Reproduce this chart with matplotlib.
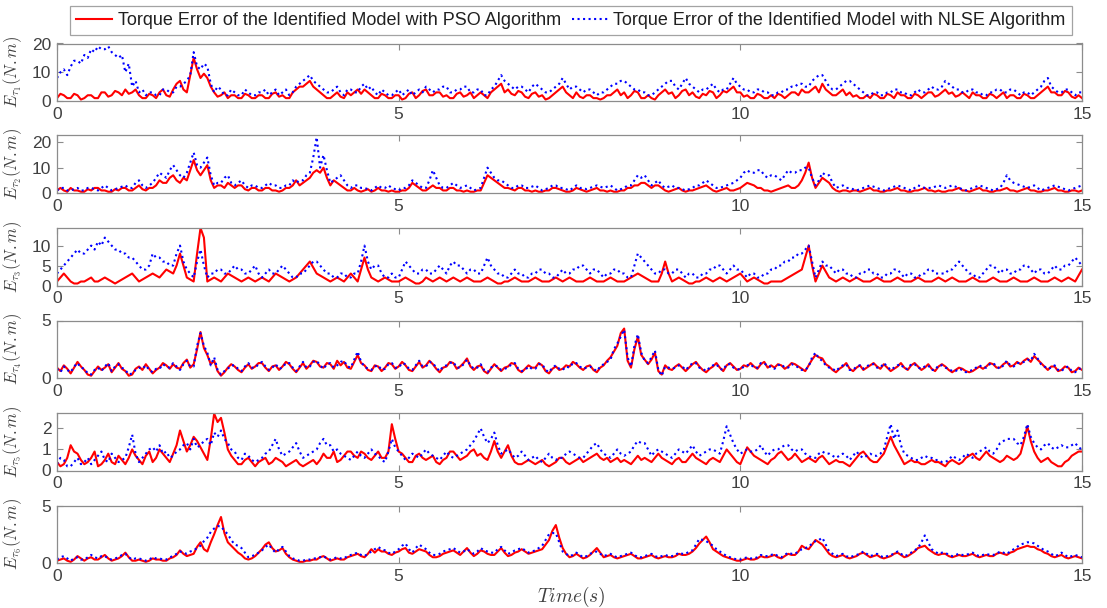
import numpy as np
import matplotlib
matplotlib.use("Agg")
import matplotlib.pyplot as plt

plt.rcParams['font.family'] = ['Liberation Sans', 'DejaVu Sans']
plt.rcParams['mathtext.fontset'] = 'cm'

# torque error of the PSO-identified model, joints 1..6 (N.m), one row per second
pso_1 = [1, 2.5, 2, 1, 1, 2.5, 2, 0.5, 1, 2, 2, 1, 1, 3, 3, 1.5, 2, 3.5, 3, 2,
         4, 2.5, 3, 4, 2, 1, 1, 2.5, 2, 1, 3, 4, 2, 1.5, 4, 6, 7, 4, 3, 9,
         15, 11, 8, 9.5, 8, 5, 3, 1.5, 2, 3, 1, 2, 2, 1, 1, 2.5, 2, 1, 1, 2,
         2, 1, 1, 2.5, 3, 1.5, 2, 1, 1, 3, 4, 5, 5, 6, 7, 5, 4, 3, 2, 1,
         1, 2, 3, 1.5, 1, 3, 2, 3, 4, 2.5, 4, 3, 2, 1, 1, 2.5, 2, 1, 1, 2,
         2, 0.5, 1, 2.5, 3, 1, 2, 3.5, 4, 2, 2, 3, 3, 1.5, 2, 1, 1, 2.5, 3, 1.5,
         2, 3, 1, 2, 3, 2, 1, 3, 4, 5, 6, 3, 4, 2.5, 2, 3.5, 3, 1.5, 1, 2.5,
         3, 1.5, 2, 0.5, 1, 2, 3, 4, 5, 3, 2, 1, 3, 1.5, 1, 2, 2, 1, 1, 0.5,
         1, 2, 2, 3, 4, 2, 3, 1, 2, 3.5, 3, 1, 1, 2, 1, 0.5, 2, 3, 4, 2.5,
         3, 1, 2, 3.5, 4, 2, 3, 1.5, 1, 2.5, 2, 3.5, 3, 1, 2, 3.5, 3, 4, 5, 3,
         3, 1.5, 2, 1, 1, 2.5, 2, 1, 1, 2, 1, 2.5, 2, 1, 2, 3, 3, 2, 4, 3,
         3, 4, 5, 3, 6, 4, 3, 2, 2, 3, 4, 2, 3, 1.5, 2, 1, 1, 2, 1, 2.5,
         2, 1, 1, 2.5, 2, 1, 3, 2, 2, 1, 1, 2.5, 2, 1, 2, 3, 3, 1.5, 2, 3,
         4, 2.5, 3, 1.5, 2, 3, 2, 1, 3, 2, 2, 1, 1, 2.5, 2, 1, 2, 3, 1, 2,
         2, 1, 1, 2.5, 2, 1, 1, 2, 3, 4, 5, 3, 3, 2, 2, 3.5, 3, 1.5, 1, 2,
         1]
pso_2 = [1, 2, 1, 0.5, 2, 1, 1, 0.5, 0.5, 1.5, 1, 2, 2, 1, 1, 0.5, 0.5, 1.5, 1, 2,
         2, 1, 1, 2, 3, 1.5, 1, 2, 2, 3, 5, 4, 4, 6, 7, 5, 4, 6, 5, 9,
         13, 9, 7, 9, 11, 5, 2, 3, 3, 2, 4, 3, 2, 3, 3, 1.5, 1, 2, 2, 1,
         1, 2, 2, 1, 1, 0.5, 1, 2, 2, 3, 5, 3, 4, 5, 6, 8, 9, 8, 10, 6,
         3, 5, 4, 3, 2, 1, 1, 2, 1, 0.5, 1, 1.5, 0.5, 1, 2, 1, 1, 0.5, 1, 0.5,
         0.5, 1, 1, 2, 4, 3, 2, 1, 1, 2, 3, 2, 2, 1, 1, 2, 2, 1, 1, 0.5,
         1, 0.5, 0.5, 1, 1, 4, 7, 6, 5, 4, 3, 2, 2, 1.5, 1, 2, 2, 1, 1, 0.5,
         1, 0.5, 0.5, 1, 1, 2, 2, 1.5, 1, 0.5, 0.5, 1, 2, 1.5, 1, 0.5, 1, 1.5, 2, 1,
         1, 0.5, 1, 0.5, 0.5, 1, 1, 2, 2, 3, 3, 4, 4, 3, 2, 3, 3, 2, 1, 0.5,
         1, 1.5, 2, 1, 0.5, 1, 1, 1.5, 2, 2.5, 3, 2, 1, 0.5, 1, 1.5, 2, 1, 1, 1.5,
         2, 3, 4, 3.5, 3, 2, 2, 1, 1, 0.5, 1, 1.5, 2, 2.5, 3, 2, 2, 3, 5, 8,
         12, 6, 2, 4, 6, 5, 4, 2, 1, 0.5, 1, 1, 0.5, 1, 1, 0.5, 1, 1.5, 2, 1,
         1, 0.5, 0.5, 1, 1, 1.5, 2, 1, 1, 0.5, 0.5, 1, 1, 1.5, 2, 1, 1, 0.5, 1, 0.5,
         0.5, 1, 1, 1.5, 2, 1, 1, 0.5, 1, 1.5, 2, 1, 1, 0.5, 0.5, 1, 1, 1.5, 2, 1,
         1, 0.5, 1, 1.5, 2, 1, 1, 0.5, 0.5, 1, 1, 1.5, 2, 1, 1, 0.5, 0.5, 1, 1, 0.5,
         1]
pso_3 = [1, 2, 3, 2, 1, 0.5, 0.5, 1, 1, 1.5, 2, 1, 1, 1.5, 2, 1.5, 1, 0.5, 1, 1.5,
         2, 2.5, 3, 2, 1, 1.5, 2, 2.5, 3, 2.5, 2, 3, 4, 3.5, 3, 5, 8, 5, 2, 1.5,
         1, 8, 14.4, 12, 1, 1.5, 2, 1.5, 1, 2, 3, 2.5, 2, 1.5, 1, 1.5, 2, 1.5, 1, 1.5,
         2, 1.5, 1, 2, 3, 2.5, 2, 1.5, 1, 1.5, 2, 3, 4, 5, 6, 4.5, 3, 2.5, 2, 1.5,
         1, 1.5, 2, 1.5, 1, 2, 3, 2, 1, 4, 7, 4, 2, 1.5, 1, 1.5, 2, 1.5, 1, 1,
         1, 1.5, 2, 1.5, 1, 0.5, 0.5, 1, 2, 1.5, 1, 1.5, 2, 1.5, 1, 1.5, 2, 1.5, 1, 1.5,
         2, 1.5, 1, 1, 1, 1.5, 2, 1.5, 1, 0.5, 0.5, 1, 1, 1.5, 2, 1.5, 1, 1, 1, 1.5,
         2, 1.5, 1, 1, 1, 1.5, 2, 1.5, 1, 1.5, 2, 1.5, 1, 1, 1, 1.5, 2, 1.5, 1, 1,
         1, 1.5, 2, 1.5, 1, 1, 1, 1.5, 2, 2.5, 3, 2.5, 2, 1.5, 1, 1, 1, 3, 6, 3,
         1, 1.5, 2, 1.5, 1, 0.5, 0.5, 1, 1, 1.5, 2, 1.5, 1, 1.5, 2, 1.5, 1, 1.5, 2, 2.5,
         3, 2, 1, 1.5, 2, 1.5, 1, 0.5, 0.5, 1, 1, 1, 1, 1.5, 2, 2.5, 3, 3.5, 4, 7,
         10, 5, 1, 3, 5, 3.5, 2, 1.5, 1, 1.5, 2, 1.5, 1, 1.5, 2, 1.5, 1, 1, 1, 1.5,
         2, 1.5, 1, 1, 1, 1.5, 2, 1.5, 1, 1, 1, 1.5, 2, 1.5, 1, 1, 1, 1.5, 2, 1.5,
         1, 1.5, 2, 1.5, 1, 1, 1, 1.5, 2, 1.5, 1, 1, 1, 1.5, 2, 1.5, 1, 1, 1, 1.5,
         2, 1.5, 1, 1, 1, 1.5, 2, 1.5, 1, 1, 1, 1.5, 2, 1.5, 1, 1.5, 2, 1.5, 1, 2.5,
         4]
pso_4 = [0.9, 0.6, 1.1, 0.8, 0.4, 0.9, 1.4, 1.0, 0.7, 0.3, 0.2, 0.6, 1.0, 0.7, 0.9, 1.2, 0.5, 0.9, 1.3, 0.8,
         0.6, 0.2, 0.3, 0.8, 1.0, 0.7, 1.2, 0.8, 0.4, 0.7, 0.9, 1.3, 1.1, 0.8, 1.2, 0.9, 0.8, 1.3, 1.6, 0.9,
         1.2, 2.5, 4.0, 2.6, 2.0, 1.2, 1.5, 0.6, 0.2, 0.5, 0.9, 1.2, 1.0, 0.7, 0.5, 0.9, 1.2, 0.8, 1.0, 1.3,
         1.3, 0.9, 0.6, 1.0, 1.1, 0.7, 1.0, 1.4, 1.2, 0.8, 0.5, 0.9, 1.3, 0.8, 1.1, 1.5, 1.4, 1.0, 0.9, 1.3,
         1.2, 0.8, 1.5, 1.1, 1.4, 0.9, 0.8, 1.4, 2.0, 1.3, 1.1, 0.7, 0.6, 1.1, 1.0, 0.6, 0.9, 1.3, 1.2, 0.8,
         1.0, 1.4, 1.1, 0.7, 0.6, 1.0, 1.4, 0.9, 1.1, 1.5, 1.2, 0.8, 0.5, 0.9, 1.0, 1.4, 1.3, 0.8, 1.0, 1.3,
         1.7, 1.0, 0.7, 1.0, 1.1, 0.6, 0.4, 0.8, 1.2, 0.9, 0.6, 0.9, 1.0, 1.3, 1.2, 0.7, 0.5, 0.8, 1.1, 0.9,
         0.9, 1.3, 1.1, 0.6, 0.4, 0.8, 1.0, 0.7, 0.8, 1.1, 1.0, 1.4, 1.2, 0.9, 0.7, 1.0, 1.1, 0.7, 0.5, 0.9,
         1.1, 1.5, 1.8, 2.3, 2.8, 3.9, 4.3, 1.5, 0.9, 2.5, 3.6, 2.0, 1.6, 1.2, 1.6, 2.2, 0.6, 0.3, 1.1, 0.8,
         0.7, 1.0, 1.2, 0.9, 0.6, 0.9, 1.2, 1.4, 1.0, 0.7, 0.5, 0.8, 1.0, 1.3, 0.9, 0.6, 1.1, 1.3, 1.0, 0.7,
         0.8, 1.1, 1.0, 1.3, 1.0, 0.8, 1.2, 1.4, 0.9, 1.1, 0.9, 1.2, 1.1, 0.8, 1.0, 1.3, 1.2, 1.0, 0.8, 0.6,
         1.1, 1.6, 2.0, 1.8, 1.7, 1.2, 1.0, 0.7, 0.5, 0.8, 1.0, 1.3, 0.8, 0.6, 0.9, 1.1, 0.7, 0.9, 1.1, 1.3,
         1.0, 0.8, 1.2, 0.9, 0.6, 0.8, 1.0, 1.3, 0.9, 0.7, 1.1, 1.3, 1.0, 0.7, 0.9, 1.2, 0.8, 0.6, 1.0, 1.2,
         1.0, 0.7, 0.5, 0.7, 0.9, 0.8, 0.6, 0.5, 0.6, 0.8, 1.0, 0.8, 1.0, 1.3, 1.2, 0.9, 0.9, 1.2, 1.4, 1.0,
         1.1, 1.4, 1.2, 1.5, 1.7, 1.4, 1.9, 1.6, 1.3, 1.0, 0.7, 1.0, 1.0, 0.6, 0.7, 1.0, 0.9, 0.5, 0.6, 0.9,
         0.7]
pso_5 = [0.4, 0.2, 0.3, 0.6, 1.2, 0.9, 0.8, 0.5, 0.3, 0.4, 0.6, 0.9, 0.2, 0.3, 0.5, 0.8, 0.4, 0.3, 0.7, 0.5,
         0.3, 0.6, 1.0, 0.7, 0.5, 0.3, 0.7, 0.9, 0.4, 0.6, 1.0, 0.8, 0.6, 0.4, 0.8, 1.2, 1.9, 1.4, 0.9, 1.2,
         1.6, 1.4, 1.1, 0.8, 0.5, 1.5, 2.7, 2.3, 2.5, 1.8, 1.0, 0.7, 0.5, 0.3, 0.3, 0.5, 0.6, 0.4, 0.2, 0.4,
         0.5, 0.6, 0.3, 0.4, 0.6, 0.5, 0.4, 0.2, 0.3, 0.4, 0.5, 0.3, 0.2, 0.3, 0.4, 0.5, 0.3, 0.5, 0.8, 0.6,
         0.6, 0.9, 0.4, 0.5, 0.7, 0.9, 0.9, 0.7, 0.6, 0.9, 0.8, 0.6, 0.5, 0.7, 0.9, 0.6, 0.6, 0.9, 2.2, 1.5,
         0.9, 0.8, 0.6, 0.4, 0.4, 0.7, 0.8, 0.6, 0.5, 0.6, 0.7, 0.4, 0.3, 0.5, 0.6, 0.9, 0.9, 0.7, 0.5, 0.6,
         0.7, 0.9, 1.0, 0.7, 0.8, 0.6, 0.5, 0.9, 1.4, 0.9, 0.6, 0.9, 1.2, 0.7, 0.4, 0.3, 0.3, 0.4, 0.5, 0.4,
         0.3, 0.4, 0.5, 0.3, 0.2, 0.3, 0.4, 0.6, 0.6, 0.4, 0.3, 0.4, 0.5, 0.6, 0.4, 0.5, 0.6, 0.7, 0.8, 0.6,
         0.5, 0.6, 0.4, 0.5, 0.6, 0.4, 0.5, 0.4, 0.3, 0.5, 0.7, 0.5, 0.6, 0.5, 0.4, 0.6, 0.8, 0.6, 0.5, 0.4,
         0.3, 0.5, 0.6, 0.4, 0.4, 0.6, 0.8, 0.6, 0.5, 0.4, 0.3, 0.5, 0.6, 0.5, 0.4, 0.7, 1.0, 0.8, 0.6, 0.4,
         0.3, 0.7, 1.1, 0.9, 0.7, 0.6, 0.5, 0.4, 0.3, 0.5, 0.6, 0.8, 0.9, 0.7, 0.5, 0.6, 0.8, 0.6, 0.4, 0.5,
         0.6, 0.5, 0.4, 0.6, 0.7, 0.5, 0.3, 0.4, 0.5, 0.4, 0.4, 0.3, 0.2, 0.4, 0.6, 0.8, 0.9, 0.7, 0.5, 0.4,
         0.4, 0.6, 0.8, 1.2, 1.6, 1.2, 0.9, 0.6, 0.3, 0.4, 0.5, 0.4, 0.4, 0.3, 0.3, 0.4, 0.5, 0.4, 0.4, 0.3,
         0.2, 0.4, 0.5, 0.4, 0.3, 0.4, 0.6, 0.7, 0.8, 0.6, 0.5, 0.7, 0.9, 0.7, 0.6, 0.5, 0.4, 0.5, 0.7, 0.6,
         0.5, 0.6, 0.8, 1.4, 2.1, 1.4, 0.9, 0.6, 0.4, 0.5, 0.6, 0.4, 0.3, 0.2, 0.2, 0.4, 0.5, 0.7, 0.8, 0.9,
         0.9]
pso_6 = [0.2, 0.3, 0.4, 0.2, 0.1, 0.3, 0.6, 0.4, 0.2, 0.4, 0.5, 0.3, 0.3, 0.5, 0.7, 0.4, 0.2, 0.3, 0.4, 0.6,
         0.9, 0.5, 0.2, 0.2, 0.3, 0.2, 0.1, 0.2, 0.4, 0.3, 0.3, 0.2, 0.2, 0.4, 0.5, 0.7, 1.1, 0.8, 0.6, 0.7,
         0.8, 1.4, 1.8, 1.2, 1.0, 1.8, 2.5, 3.3, 4.0, 2.6, 1.8, 1.5, 1.2, 0.9, 0.7, 0.4, 0.3, 0.4, 0.6, 0.9,
         1.2, 1.6, 1.8, 1.3, 1.0, 1.1, 1.3, 0.8, 0.5, 0.3, 0.2, 0.1, 0.1, 0.2, 0.2, 0.3, 0.3, 0.5, 0.6, 0.4,
         0.2, 0.3, 0.4, 0.3, 0.3, 0.5, 0.6, 0.7, 0.8, 0.6, 0.5, 0.8, 1.2, 0.9, 1.2, 1.0, 1.0, 0.8, 0.7, 0.9,
         1.0, 1.2, 1.3, 0.9, 0.8, 1.0, 1.2, 1.1, 1.0, 0.7, 0.5, 0.5, 0.6, 0.8, 0.9, 1.0, 1.1, 0.9, 0.7, 1.0,
         1.3, 0.9, 0.6, 0.8, 1.1, 1.0, 0.8, 0.7, 0.7, 1.0, 1.3, 0.9, 0.6, 0.7, 0.9, 1.0, 1.2, 1.0, 0.8, 0.9,
         1.0, 1.1, 1.2, 1.6, 2.0, 2.8, 3.3, 2.2, 1.3, 0.8, 0.5, 0.6, 0.8, 0.6, 0.4, 0.5, 0.7, 1.0, 1.3, 0.9,
         0.5, 0.6, 0.7, 0.5, 0.4, 0.5, 0.6, 0.7, 0.8, 0.6, 0.4, 0.4, 0.5, 0.6, 0.7, 0.5, 0.4, 0.5, 0.6, 0.5,
         0.5, 0.6, 0.8, 0.7, 0.7, 0.8, 1.0, 1.3, 1.7, 2.0, 2.3, 1.8, 1.2, 1.0, 0.8, 0.6, 0.5, 0.4, 0.3, 0.2,
         0.2, 0.3, 0.4, 0.3, 0.3, 0.4, 0.6, 0.5, 0.5, 0.6, 0.7, 0.5, 0.4, 0.6, 0.8, 0.7, 0.7, 1.0, 1.5, 1.3,
         1.2, 1.6, 2.0, 1.8, 1.6, 1.2, 0.8, 0.6, 0.5, 0.6, 0.7, 0.5, 0.4, 0.5, 0.6, 0.8, 0.9, 0.7, 0.5, 0.6,
         0.7, 0.5, 0.4, 0.5, 0.6, 0.8, 0.9, 0.7, 0.5, 0.6, 0.8, 1.0, 1.3, 1.4, 1.5, 1.2, 1.0, 0.8, 0.7, 0.8,
         0.8, 0.6, 0.5, 0.6, 0.7, 0.6, 0.6, 0.7, 0.8, 0.6, 0.5, 0.6, 0.7, 0.6, 0.6, 0.8, 0.9, 0.8, 0.7, 0.9,
         1.0, 1.2, 1.3, 1.4, 1.5, 1.4, 1.4, 1.2, 1.1, 0.9, 0.8, 0.6, 0.5, 0.6, 0.7, 0.5, 0.4, 0.5, 0.6, 0.5,
         0.4]

# torque error of the NLSE-identified model, joints 1..6 (N.m), one row per second
nlse_1 = [8, 10, 11, 9, 12, 14, 14, 13, 16, 15, 18, 17, 19, 18, 18, 19, 17, 16, 15, 16,
          10, 13, 5, 7, 3, 4, 2, 3, 3, 2, 2, 4, 4, 3, 3, 5, 5, 6, 7, 9,
          17, 12, 11, 13, 12, 6, 3, 5, 4, 2, 2, 4, 3, 2, 2, 4, 3, 2, 2, 3,
          3, 4, 2, 3, 4, 2, 3, 4, 2, 3, 5, 6, 7, 8, 9, 7, 6, 5, 4, 3,
          3, 4, 5, 3, 2, 4, 4, 3, 3, 5, 6, 4, 5, 3, 2, 4, 3, 2, 2, 3,
          4, 2, 3, 4, 2, 3, 4, 3, 5, 4, 3, 4, 4, 5, 5, 3, 3, 4, 4, 5,
          5, 3, 3, 4, 4, 2, 2, 4, 5, 7, 9, 7, 6, 5, 4, 5, 5, 4, 3, 5,
          6, 5, 4, 3, 3, 4, 5, 6, 8, 6, 4, 5, 5, 4, 3, 4, 4, 3, 2, 3,
          3, 4, 5, 6, 6, 7, 7, 6, 5, 4, 4, 3, 3, 2, 2, 3, 4, 5, 6, 7,
          7, 5, 4, 6, 8, 6, 5, 4, 3, 4, 4, 5, 6, 4, 3, 4, 4, 6, 8, 6,
          5, 4, 4, 3, 3, 4, 4, 3, 3, 2, 2, 3, 3, 4, 4, 5, 5, 6, 6, 5,
          5, 7, 8, 9, 9, 7, 5, 4, 4, 5, 6, 7, 7, 6, 5, 4, 3, 2, 2, 3,
          3, 2, 2, 3, 3, 4, 4, 3, 3, 2, 2, 3, 4, 3, 3, 4, 5, 4, 4, 5,
          7, 6, 5, 4, 4, 3, 3, 4, 4, 3, 3, 2, 2, 3, 3, 4, 4, 3, 3, 4,
          4, 3, 2, 3, 3, 2, 3, 4, 5, 7, 8, 5, 4, 3, 3, 4, 4, 3, 2, 3,
          3]
nlse_2 = [1, 2, 2, 1, 1, 1.5, 2, 1, 1, 2, 2, 1.5, 1, 2, 3, 2, 1, 1.5, 2, 2.5,
          3, 2, 2, 4, 5, 3, 2, 3, 4, 6, 8, 7, 6, 9, 11, 9, 7, 6, 8, 12,
          16, 11, 10, 12, 14, 7, 3, 4, 4, 6, 7, 4, 3, 4, 5, 3, 2, 3, 3, 2,
          2, 3, 4, 3, 3, 2, 2, 3, 3, 5, 4, 5, 5, 7, 8, 14, 22, 10, 15, 9,
          4, 5, 6, 7, 5, 3, 2, 3, 3, 2, 2, 1.5, 1, 2, 3, 2, 2, 3, 2, 1.5,
          1, 2, 2, 3, 5, 4, 3, 2, 2, 5, 9, 6, 3, 2, 2, 3, 4, 3, 2, 2.5,
          3, 2, 1, 1.5, 2, 6, 10, 8, 6, 5, 5, 4, 3, 2, 2, 3, 3, 2, 2, 2.5,
          3, 2, 1, 1.5, 2, 3, 3, 2, 2, 1.5, 1, 2, 3, 2, 2, 1.5, 2, 2.5, 3, 2.5,
          2, 2.5, 3, 2, 1, 1.5, 2, 3, 3, 5, 7, 6, 7, 5, 3, 4, 5, 3, 2, 2.5,
          3, 2, 2, 1.5, 1, 1.5, 2, 3, 3, 4, 5, 4, 3, 2, 2, 2.5, 3, 3.5, 4, 5,
          6, 8, 9, 8, 8, 9, 9, 7, 6, 7, 7, 6, 5, 7, 9, 8, 8, 9, 9, 10,
          10, 6, 3, 5, 8, 7, 7, 4, 2, 2.5, 3, 2, 2, 1.5, 1, 1.5, 2, 2.5, 3, 2.5,
          2, 1.5, 1, 1.5, 2, 2.5, 3, 2.5, 2, 1.5, 1, 2, 3, 2.5, 2, 2, 2, 2.5, 3, 2.5,
          2, 2.5, 3, 2.5, 2, 1.5, 1, 1.5, 2, 2.5, 3, 2.5, 2, 1.5, 1, 1.5, 2, 4, 7, 5,
          4, 3.5, 3, 2.5, 2, 2.5, 3, 2, 1, 1.5, 2, 2.5, 3, 2.5, 2, 1.5, 1, 1.5, 2, 2.5,
          3]
nlse_3 = [3, 4, 5, 6, 7, 8, 9, 8, 8, 9, 10, 9, 11, 10, 12, 11, 10, 9, 9, 8,
          8, 7, 7, 6, 5, 4, 4, 5, 8, 7, 7, 6, 6, 5, 5, 8, 10, 6, 4, 3,
          2, 6, 9, 5, 2, 3, 3, 4, 4, 3, 3, 4, 5, 4, 4, 3, 3, 4, 5, 3,
          2, 3, 4, 3, 3, 4, 5, 4, 3, 2, 2, 3, 3, 4, 5, 6, 6, 5, 4, 3,
          3, 2, 2, 3, 3, 2, 2, 3, 3, 6, 10, 6, 4, 5, 5, 3, 2, 2, 3, 2,
          2, 4, 6, 5, 4, 3, 3, 4, 4, 3, 3, 4, 5, 4, 3, 5, 6, 5, 5, 4,
          3, 4, 4, 3, 3, 5, 7, 5, 4, 3, 3, 2, 2, 3, 4, 3, 3, 2, 2, 3,
          3, 4, 4, 3, 3, 2, 2, 3, 4, 3, 3, 4, 4, 5, 5, 4, 3, 4, 4, 3,
          2, 3, 3, 4, 4, 3, 3, 2, 2, 5, 8, 7, 6, 5, 4, 3, 3, 4, 4, 3,
          3, 4, 4, 3, 2, 3, 3, 2, 2, 3, 3, 4, 4, 5, 5, 4, 3, 4, 5, 4,
          4, 3, 2, 3, 3, 2, 2, 3, 3, 4, 4, 5, 5, 6, 6, 7, 7, 8, 8, 9,
          10, 6, 2, 4, 6, 5, 5, 4, 3, 4, 4, 3, 3, 2, 2, 3, 3, 4, 4, 3,
          3, 2, 2, 3, 3, 4, 4, 3, 2, 3, 3, 2, 2, 3, 3, 4, 4, 3, 3, 3,
          3, 4, 4, 5, 6, 5, 4, 3, 3, 2, 2, 3, 4, 5, 5, 4, 3, 4, 4, 3,
          3, 4, 4, 5, 5, 4, 3, 4, 4, 3, 3, 4, 5, 4, 4, 5, 5, 6, 7, 6,
          5]
nlse_4 = [0.8, 0.5, 1.0, 0.7, 0.5, 1.0, 1.3, 0.9, 0.8, 0.4, 0.3, 0.7, 0.9, 0.6, 1.0, 1.3, 0.6, 1.0, 1.2, 0.9,
          0.7, 0.3, 0.4, 0.7, 0.9, 0.8, 1.1, 0.7, 0.5, 0.8, 0.8, 1.2, 1.0, 0.9, 1.3, 1.0, 0.7, 1.2, 1.5, 1.0,
          1.0, 2.8, 3.9, 2.8, 2.2, 1.1, 1.8, 0.7, 0.3, 0.6, 0.8, 1.1, 1.1, 0.8, 0.6, 1.0, 1.3, 0.9, 0.9, 1.2,
          1.4, 1.0, 0.7, 0.9, 1.2, 0.8, 0.9, 1.3, 1.3, 0.9, 0.6, 1.0, 1.4, 0.9, 1.0, 1.4, 1.5, 1.1, 0.8, 1.2,
          1.3, 0.9, 1.1, 1.4, 1.5, 1.0, 0.9, 1.6, 2.3, 1.4, 1.0, 0.8, 0.7, 1.0, 1.1, 0.7, 0.8, 1.2, 1.3, 0.9,
          0.9, 1.3, 1.2, 0.8, 0.7, 1.1, 1.5, 1.0, 1.0, 1.4, 1.3, 0.9, 0.6, 1.0, 1.1, 1.3, 1.4, 0.9, 0.9, 1.2,
          1.6, 1.1, 0.8, 0.9, 1.2, 0.7, 0.5, 0.9, 1.1, 1.0, 0.7, 0.8, 0.9, 1.2, 1.3, 0.8, 0.6, 0.7, 1.0, 0.8,
          0.8, 1.2, 1.2, 0.7, 0.5, 0.9, 1.1, 0.8, 0.7, 1.0, 0.9, 1.3, 1.3, 1.0, 0.8, 0.9, 1.0, 0.8, 0.6, 1.0,
          1.2, 1.4, 1.6, 2.5, 3.0, 3.6, 4.2, 1.8, 1.0, 2.8, 3.8, 2.2, 1.5, 1.3, 1.8, 2.4, 0.7, 0.2, 1.0, 0.9,
          0.8, 0.9, 1.1, 1.0, 0.7, 1.0, 1.3, 1.3, 0.9, 0.8, 0.6, 0.9, 1.1, 1.2, 0.8, 0.7, 1.2, 1.2, 0.9, 0.8,
          0.7, 1.0, 1.1, 1.2, 0.9, 0.9, 1.3, 1.3, 1.0, 1.0, 0.8, 1.1, 1.2, 0.9, 0.9, 1.2, 1.1, 0.9, 0.7, 0.7,
          1.0, 1.8, 2.2, 1.7, 1.5, 1.1, 0.9, 0.8, 0.6, 0.9, 1.1, 1.2, 0.7, 0.7, 1.0, 1.1, 0.8, 1.0, 1.2, 1.2,
          0.9, 0.9, 1.3, 1.0, 0.7, 0.9, 1.1, 1.2, 0.8, 0.8, 1.2, 1.2, 0.9, 0.8, 1.0, 1.1, 0.7, 0.7, 1.1, 1.1,
          0.9, 0.8, 0.6, 0.6, 0.8, 0.7, 0.5, 0.6, 0.7, 0.9, 1.1, 0.9, 0.9, 1.2, 1.3, 1.0, 0.8, 1.1, 1.5, 1.1,
          1.0, 1.3, 1.3, 1.4, 1.6, 1.5, 2.1, 1.7, 1.2, 1.0, 0.8, 0.9, 1.1, 0.7, 0.6, 0.9, 1.0, 0.6, 0.5, 0.8,
          0.8]
nlse_5 = [0.3, 0.6, 0.5, 0.2, 0.2, 0.4, 0.6, 0.3, 0.4, 0.6, 0.3, 0.5, 0.7, 0.9, 0.5, 0.4, 0.8, 0.6, 0.4, 0.5,
          0.6, 1.1, 1.7, 0.8, 0.4, 0.6, 0.8, 1.0, 1.1, 0.9, 1.2, 0.8, 0.9, 0.6, 0.7, 0.9, 1.0, 1.2, 1.3, 1.0,
          1.5, 1.1, 1.2, 1.4, 1.5, 1.2, 1.8, 1.6, 1.9, 1.5, 1.3, 1.0, 0.9, 0.6, 0.5, 0.8, 0.7, 0.5, 0.4, 0.5,
          0.6, 0.8, 0.9, 1.2, 1.5, 1.0, 0.7, 0.8, 0.9, 1.1, 1.3, 0.9, 0.6, 0.7, 0.8, 0.9, 1.0, 1.3, 1.5, 1.2,
          1.2, 0.9, 1.0, 0.8, 0.7, 0.6, 0.5, 0.7, 0.9, 0.7, 0.6, 0.8, 1.0, 0.8, 0.7, 0.5, 0.4, 0.9, 1.5, 1.1,
          0.9, 0.7, 0.5, 0.6, 0.8, 0.7, 0.6, 0.8, 1.0, 0.8, 0.7, 0.6, 0.5, 0.7, 0.9, 0.7, 0.6, 0.7, 0.8, 0.9,
          1.0, 1.2, 1.4, 1.7, 2.0, 1.6, 1.3, 1.5, 1.8, 1.2, 0.8, 0.9, 1.0, 0.8, 0.6, 0.7, 0.9, 0.7, 0.5, 0.6,
          0.7, 0.5, 0.4, 0.6, 0.8, 0.6, 0.5, 0.6, 0.6, 0.8, 0.9, 0.8, 0.7, 0.6, 0.6, 0.8, 1.0, 1.2, 1.3, 1.0,
          0.8, 0.7, 0.6, 0.8, 1.0, 0.8, 0.7, 0.8, 0.9, 1.2, 1.4, 1.3, 1.3, 1.0, 0.7, 0.9, 1.0, 0.9, 0.8, 0.7,
          0.6, 0.8, 1.0, 0.9, 0.8, 1.0, 1.2, 0.9, 0.7, 0.8, 0.9, 1.0, 1.0, 0.9, 0.8, 1.4, 2.1, 1.7, 1.3, 1.0,
          0.8, 0.9, 1.0, 0.9, 0.9, 1.0, 1.2, 0.9, 0.7, 0.9, 1.0, 1.0, 1.1, 1.2, 1.2, 1.0, 0.9, 1.0, 1.0, 0.8,
          0.7, 0.6, 0.6, 0.8, 0.9, 0.8, 0.8, 0.7, 0.6, 0.7, 0.8, 0.7, 0.5, 0.7, 0.9, 0.7, 0.6, 0.7, 0.8, 0.7,
          0.7, 0.8, 1.0, 1.6, 2.2, 1.5, 1.9, 1.2, 0.8, 0.7, 0.6, 0.5, 0.5, 0.6, 0.7, 0.6, 0.6, 0.5, 0.5, 0.4,
          0.4, 0.5, 0.7, 0.6, 0.5, 0.6, 0.8, 0.7, 0.6, 0.8, 0.9, 1.0, 1.1, 0.9, 0.8, 1.0, 1.3, 1.4, 1.5, 1.5,
          1.5, 1.3, 1.2, 1.6, 2.2, 1.6, 1.3, 1.1, 1.0, 1.2, 1.3, 1.1, 1.0, 1.1, 1.2, 1.1, 1.1, 1.2, 1.3, 1.1,
          1.0]
nlse_6 = [0.3, 0.5, 0.6, 0.4, 0.2, 0.4, 0.5, 0.3, 0.3, 0.5, 0.7, 0.5, 0.4, 0.6, 0.6, 0.4, 0.3, 0.4, 0.5, 0.7,
          0.8, 0.5, 0.3, 0.4, 0.4, 0.3, 0.2, 0.3, 0.5, 0.4, 0.4, 0.3, 0.3, 0.5, 0.6, 0.8, 1.0, 0.9, 0.8, 1.0,
          1.1, 1.3, 1.5, 1.9, 2.2, 2.7, 3.0, 3.2, 3.2, 2.8, 2.5, 2.0, 1.6, 1.5, 1.3, 0.9, 0.5, 0.6, 0.7, 0.9,
          1.1, 1.4, 1.6, 1.2, 0.9, 1.2, 1.4, 1.0, 0.6, 0.4, 0.3, 0.2, 0.2, 0.3, 0.3, 0.4, 0.4, 0.5, 0.6, 0.4,
          0.3, 0.4, 0.5, 0.4, 0.4, 0.6, 0.7, 0.8, 0.9, 0.7, 0.6, 0.8, 1.0, 1.2, 1.4, 1.2, 1.1, 0.9, 0.8, 1.0,
          1.2, 1.5, 1.7, 1.2, 0.9, 1.3, 1.6, 1.4, 1.2, 0.9, 0.7, 0.7, 0.8, 1.0, 1.1, 1.2, 1.3, 1.1, 0.9, 1.0,
          1.2, 1.0, 0.8, 1.0, 1.3, 1.1, 1.0, 0.9, 0.9, 1.2, 1.4, 1.1, 0.8, 0.9, 1.1, 1.2, 1.3, 1.1, 0.9, 1.0,
          1.1, 1.3, 1.5, 2.0, 2.5, 2.6, 2.6, 1.8, 1.0, 0.8, 0.6, 0.7, 0.9, 0.7, 0.5, 0.6, 0.8, 0.9, 1.0, 0.8,
          0.6, 0.7, 0.8, 0.6, 0.5, 0.6, 0.7, 0.8, 0.9, 0.7, 0.5, 0.5, 0.6, 0.7, 0.8, 0.6, 0.5, 0.6, 0.7, 0.6,
          0.6, 0.7, 0.9, 0.8, 0.8, 1.0, 1.1, 1.6, 2.1, 2.0, 1.9, 1.7, 1.5, 1.2, 1.0, 0.8, 0.6, 0.5, 0.4, 0.3,
          0.3, 0.4, 0.5, 0.4, 0.4, 0.5, 0.7, 0.6, 0.6, 0.7, 0.8, 0.6, 0.5, 0.7, 0.9, 0.8, 0.8, 1.0, 1.2, 1.3,
          1.4, 1.7, 1.9, 2.0, 2.2, 1.6, 1.0, 0.8, 0.6, 0.7, 0.8, 0.6, 0.5, 0.6, 0.7, 0.8, 1.0, 0.8, 0.6, 0.7,
          0.8, 0.6, 0.5, 0.6, 0.7, 0.8, 1.0, 0.8, 0.6, 0.7, 0.9, 1.1, 1.3, 1.8, 2.4, 1.8, 1.2, 1.0, 0.8, 0.9,
          0.9, 0.7, 0.6, 0.7, 0.8, 0.7, 0.7, 0.8, 0.9, 0.7, 0.6, 0.7, 0.8, 0.7, 0.7, 0.8, 1.0, 0.9, 0.8, 1.0,
          1.2, 1.4, 1.6, 1.7, 1.8, 1.8, 1.7, 1.5, 1.3, 1.1, 1.0, 0.8, 0.6, 0.7, 0.9, 0.7, 0.5, 0.6, 0.7, 0.6,
          0.5]

pso_series = [pso_1, pso_2, pso_3, pso_4, pso_5, pso_6]
nlse_series = [nlse_1, nlse_2, nlse_3, nlse_4, nlse_5, nlse_6]
y_limits = [20, 22.7, 14.4, 5, 2.73, 5]
y_ticks = [[0, 10, 20], [0, 10, 20], [0, 5, 10], [0, 5], [0, 1, 2], [0, 5]]
x_ticks = [0, 5, 10, 15]
joint_labels = [r'$E_{\tau_%d}(N.m)$' % k for k in range(1, 7)]
legend_labels = ['Torque Error of the Identified Model with PSO Algorithm',
                 'Torque Error of the Identified Model with NLSE Algorithm']

W, H = 1107, 608
fig = plt.figure(figsize=(W / 100, H / 100), dpi=100)

left_px, right_px = 57, 1082
panel_h = 57.5
tops = [43.5, 135.5, 228.0, 320.5, 413.0, 505.5]
frame_color = '#8c8c8c'
text_color = '#404040'

for i in range(6):
    ax = fig.add_axes([left_px / W, 1 - (tops[i] + panel_h) / H,
                       (right_px - left_px) / W, panel_h / H])
    t_pso = np.linspace(0, 15, len(pso_series[i]))
    t_nlse = np.linspace(0, 15, len(nlse_series[i]))
    l1, = ax.plot(t_pso, pso_series[i], color='#ff0000', lw=1.5, ls='-')
    l2, = ax.plot(t_nlse, nlse_series[i], color='#0000ff', lw=1.5, ls=':')
    ax.set_xlim(0, 15)
    ax.set_ylim(0, y_limits[i])
    ax.set_xticks(x_ticks)
    ax.set_yticks(y_ticks[i])
    ax.tick_params(direction='in', top=True, right=True, length=4,
                   width=0.8, color=frame_color, labelcolor=text_color,
                   labelsize=12.5, pad=4)
    for s in ax.spines.values():
        s.set_color(frame_color)
        s.set_linewidth(0.9)
    ax.set_ylabel(joint_labels[i], fontsize=12, color=text_color)
    ax.yaxis.set_label_coords(-0.032, 0.5)

fig.text(571 / W, 1 - 597 / H, r'$Time(s)$', ha='center', va='center',
         fontsize=14, color=text_color)

leg = fig.legend([l1, l2], legend_labels, loc='center',
                 bbox_to_anchor=(571 / W, 1 - 20.5 / H), ncol=2,
                 fontsize=13, frameon=True, fancybox=False,
                 edgecolor=frame_color, handlelength=2.0,
                 handletextpad=0.3, columnspacing=0.6,
                 borderpad=0.35, borderaxespad=0)
leg.get_frame().set_linewidth(0.9)
for t in leg.get_texts():
    t.set_color('#202020')

fig.savefig('out.png', dpi=100)
